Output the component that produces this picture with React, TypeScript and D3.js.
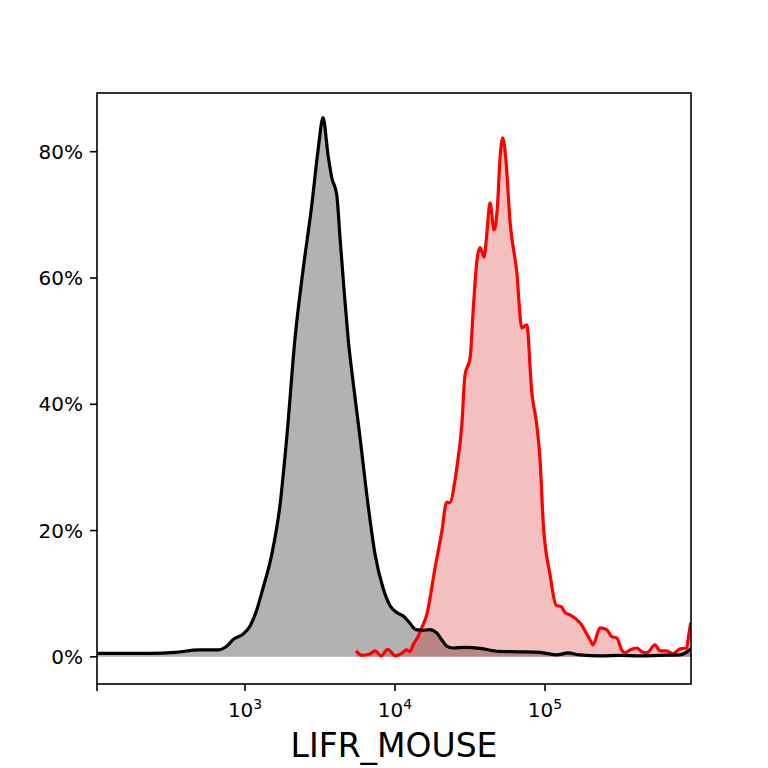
import React, { useEffect, useRef } from 'react';
import * as d3 from 'd3';

// control (black / grey) histogram, intensity vs % of max
const CONTROL_INTENSITY = [
  103, 233, 341, 494, 661, 747, 845, 970, 1080, 1184, 1318, 1506, 1711, 1896, 2154, 2437, 2786, 3069,
  3311, 3574, 3784, 4085, 4297, 4571, 4862, 5330, 5844, 6607, 7362, 8318, 9268, 10310, 11300, 12390,
  13800, 15380, 17100, 18960, 20480, 22110, 24370, 29290, 36870, 49070, 66070, 92660, 120200, 142300,
  171000, 232600, 316200, 429900, 584400, 794300, 884700, 939800,
];
const CONTROL_PERCENT = [
  0.55, 0.55, 0.7, 1.1, 1.1, 1.6, 2.85, 3.6, 4.9, 7.1, 10.9, 16.2, 24.1, 34.7, 50.5, 61.3, 71.6, 80.3,
  85.4, 79.5, 75.9, 73.2, 66.4, 58.1, 50.5, 42.3, 34.7, 24.1, 16.2, 10.9, 8.1, 7.0, 6.5, 5.5,
  4.3, 4.2, 4.3, 3.8, 2.7, 1.7, 1.4, 1.5, 1.35, 0.87, 0.8, 0.7, 0.3, 0.63,
  0.3, 0.16, 0.24, 0.16, 0.24, 0.3, 0.8, 1.27,
];

// stained (red) histogram
const STAINED_INTENSITY = [
  5495, 6026, 6714, 7362, 8072, 8935, 10070, 10960, 11970, 12590, 13180, 14230, 15060, 16260, 18480,
  20480, 22110, 23090, 25780, 27860, 29290, 31620, 33270, 35070, 36870, 39190, 40840, 42970, 45710,
  48080, 50120, 52240, 54950, 58440, 64770, 69980, 75510, 81530, 88080, 92660, 97430, 108000, 118400,
  129100, 135900, 146800, 171000, 199500, 208900, 232600, 257600, 278600, 300600, 324600, 341200,
  368700, 408300, 441600, 476400, 540800, 584400, 647100, 713000, 794300, 880500, 897500, 935400,
];
const STAINED_PERCENT = [
  0.95, 0.24, 0.4, 0.95, 0.16, 1.2, 0.16, 0.5, 1.1, 0.84, 1.9, 3.2, 4.6, 6.65, 14.1,
  19.8, 24.5, 24.4, 29.9, 36.7, 44.7, 47.3, 55.3, 62.6, 64.8, 63.3, 66.8, 71.9, 67.6,
  71.1, 79.0, 82.2, 78.4, 68.9, 61.0, 52.1, 52.6, 42.0, 36.7, 31.2, 20.9, 13.0, 8.2,
  7.9, 7.0, 6.65, 5.4, 2.7, 1.9, 4.6, 4.3, 3.2, 3.0, 1.1, 0.63,
  1.1, 1.4, 0.8, 0.63, 1.9, 0.95, 0.95, 0.5, 1.27, 1.4, 2.7, 5.4,
];

const Y_TICKS = [0, 20, 40, 60, 80];
const X_TICKS = [1e3, 1e4, 1e5];
const X_DOMAIN = [103, 940000];
const Y_DOMAIN = [-4.3, 89.3];
const X_LABEL = 'LIFR_MOUSE';

const FONT = 'DejaVu Sans, sans-serif';

export default function App() {
  const ref = useRef<SVGSVGElement>(null);

  useEffect(() => {
    const svgEl = ref.current;
    if (!svgEl) return;
    const svg = d3.select(svgEl);
    svg.selectAll('*').remove();

    const left = 97, right = 691, top = 93, bottom = 684;

    const x = d3.scaleLog().domain(X_DOMAIN).range([left, right]);
    const y = d3.scaleLinear().domain(Y_DOMAIN).range([bottom, top]);

    svg.append('clipPath').attr('id', 'plot-clip')
      .append('rect').attr('x', left).attr('y', top).attr('width', right - left).attr('height', bottom - top);

    const plot = svg.append('g').attr('clip-path', 'url(#plot-clip)');

    const control = CONTROL_INTENSITY.map((v, i) => [v, CONTROL_PERCENT[i]] as [number, number]);
    const stained = STAINED_INTENSITY.map((v, i) => [v, STAINED_PERCENT[i]] as [number, number]);

    const area = d3.area<[number, number]>()
      .x((d) => x(d[0]))
      .y0(y(0))
      .y1((d) => y(d[1]))
      .curve(d3.curveMonotoneX);
    const line = d3.line<[number, number]>()
      .x((d) => x(d[0]))
      .y((d) => y(d[1]))
      .curve(d3.curveMonotoneX);

    plot.append('path').attr('d', area(control)).attr('fill', 'rgba(0,0,0,0.3)');
    plot.append('path').attr('d', area(stained)).attr('fill', 'rgba(212,0,0,0.25)');
    plot.append('path').attr('d', line(stained)).attr('fill', 'none').attr('stroke', '#ff0000')
      .attr('stroke-width', 3.2).attr('stroke-linejoin', 'round');
    plot.append('path').attr('d', line(control)).attr('fill', 'none').attr('stroke', '#000')
      .attr('stroke-width', 3.2).attr('stroke-linejoin', 'round');

    // frame
    svg.append('rect').attr('x', left).attr('y', top).attr('width', right - left).attr('height', bottom - top)
      .attr('fill', 'none').attr('stroke', '#000').attr('stroke-width', 1.6);

    // y axis
    const yg = svg.append('g');
    Y_TICKS.forEach((t) => {
      yg.append('line').attr('x1', left - 7).attr('x2', left).attr('y1', y(t)).attr('y2', y(t))
        .attr('stroke', '#000').attr('stroke-width', 1.6);
      yg.append('text').attr('x', left - 14).attr('y', y(t)).attr('dy', '0.36em')
        .attr('text-anchor', 'end').attr('font-family', FONT).attr('font-size', 20)
        .text(`${t}%`);
    });

    // x axis
    const xg = svg.append('g');
    [X_DOMAIN[0], ...X_TICKS].forEach((t) => {
      xg.append('line').attr('x1', x(t)).attr('x2', x(t)).attr('y1', bottom).attr('y2', bottom + 7)
        .attr('stroke', '#000').attr('stroke-width', 1.6);
    });
    X_TICKS.forEach((t) => {
      const txt = xg.append('text').attr('x', x(t)).attr('y', 717).attr('text-anchor', 'middle')
        .attr('font-family', FONT).attr('font-size', 20);
      txt.append('tspan').text('10');
      txt.append('tspan').attr('font-size', 14).attr('dy', -8).text(String(Math.round(Math.log10(t))));
    });

    svg.append('text').attr('x', (left + right) / 2).attr('y', 757).attr('text-anchor', 'middle')
      .attr('font-family', FONT).attr('font-size', 33).text(X_LABEL);
  }, []);

  return (
    <svg
      ref={ref}
      width={768}
      height={768}
      style={{ position: 'absolute', left: 0, top: 0, background: '#fff' }}
    />
  );
}
